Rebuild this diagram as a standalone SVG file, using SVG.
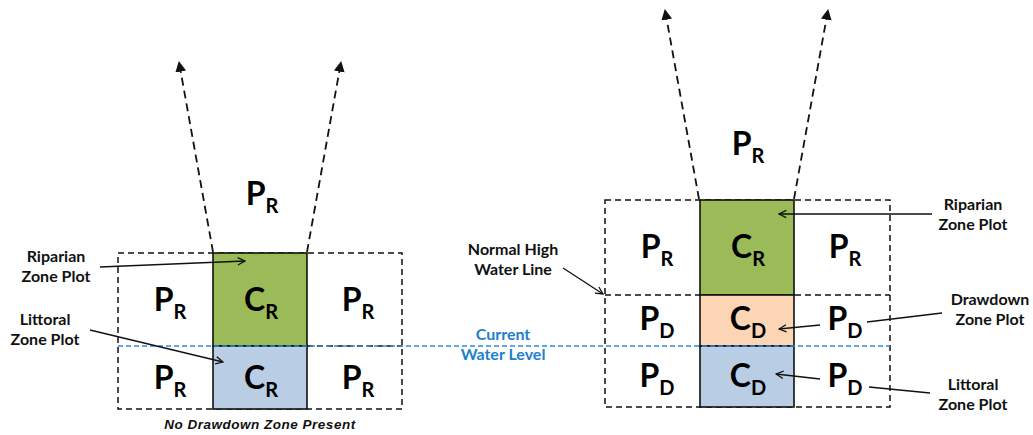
<svg xmlns="http://www.w3.org/2000/svg" width="1033" height="435" viewBox="0 0 1033 435">
  <style>
    .lbl { font-family: Lato, "Liberation Sans", sans-serif; font-weight: 700; font-size: 16px; fill: #111; text-anchor: middle; }
    .blue { fill: #2080d0; }
    .big { font-family: Lato, "Liberation Sans", sans-serif; font-weight: 700; font-size: 32px; fill: #000; text-anchor: middle; }
    .sub { font-size: 20px; }
    .note { font-family: "Liberation Sans", Arial, sans-serif; font-weight: 700; font-style: italic; font-size: 13.5px; fill: #111; text-anchor: middle; letter-spacing: 0.5px; }
    .grid { fill: none; stroke: #111; stroke-width: 1.5; stroke-dasharray: 6 4; }
    .solid { stroke: #111; stroke-width: 1.6; }
    .water { fill: none; stroke: #2e8ae0; stroke-width: 1.4; stroke-dasharray: 5 3; }
    .ray { fill: none; stroke: #111; stroke-width: 1.8; stroke-dasharray: 8 5; marker-end: url(#tri); }
    .ptr { fill: none; stroke: #111; stroke-width: 1.3; marker-end: url(#vee); }
    .leader { fill: none; stroke: #111; stroke-width: 1.3; }
  </style>
  <defs>
    <marker id="tri" viewBox="0 0 10 10" refX="9" refY="5" markerWidth="6" markerHeight="6" markerUnits="strokeWidth" orient="auto">
      <path d="M0,0 L10,5 L0,10 z" fill="#111"/>
    </marker>
    <marker id="vee" viewBox="0 0 10 10" refX="9" refY="5" markerWidth="7" markerHeight="7" markerUnits="strokeWidth" orient="auto">
      <path d="M1,1 L9,5 L1,9" fill="none" stroke="#111" stroke-width="1.4"/>
    </marker>
  </defs>
  <rect width="1033" height="435" fill="#fff"/>

  <!-- Left layout: no drawdown zone -->
  <g id="left-grid">
    <rect class="grid" x="118" y="253" width="284" height="156"/>
    <line class="grid" x1="307" y1="346" x2="402" y2="346"/>
    <rect id="left-cr-riparian" x="213" y="253" width="94" height="93" fill="#9bbb59" class="solid"/>
    <rect id="left-cr-littoral" x="213" y="346" width="94" height="63" fill="#b9cde5" class="solid"/>
  </g>
  <g id="left-top-pr"><text class="big" x="262" y="205">P<tspan class="sub" dy="8">R</tspan></text></g>
  <g id="left-pr-1"><text class="big" x="170" y="311">P<tspan class="sub" dy="8">R</tspan></text></g>
  <g id="left-cr-1"><text class="big" x="261" y="311">C<tspan class="sub" dy="8">R</tspan></text></g>
  <g id="left-pr-2"><text class="big" x="358" y="311">P<tspan class="sub" dy="8">R</tspan></text></g>
  <g id="left-pr-3"><text class="big" x="170" y="389">P<tspan class="sub" dy="8">R</tspan></text></g>
  <g id="left-cr-2"><text class="big" x="261" y="389">C<tspan class="sub" dy="8">R</tspan></text></g>
  <g id="left-pr-4"><text class="big" x="358" y="389">P<tspan class="sub" dy="8">R</tspan></text></g>
  <g id="left-riparian-label">
    <text class="lbl" x="56" y="262">Riparian</text>
    <text class="lbl" x="56" y="282">Zone Plot</text>
  </g>
  <g id="left-littoral-label">
    <text class="lbl" x="45" y="325">Littoral</text>
    <text class="lbl" x="45" y="345">Zone Plot</text>
  </g>
  <g id="left-caption"><text class="note" x="260" y="429">No Drawdown Zone Present</text></g>

  <!-- Right layout: drawdown zone present -->
  <g id="right-grid">
    <rect class="grid" x="605" y="200" width="285" height="207"/>
    <line class="grid" x1="605" y1="295" x2="890" y2="295"/>
    <rect id="right-cr" x="700" y="200" width="94" height="95" fill="#9bbb59" class="solid"/>
    <rect id="right-cd-drawdown" x="700" y="295" width="94" height="51" fill="#fcd5b5" class="solid"/>
    <rect id="right-cd-littoral" x="700" y="346" width="94" height="61" fill="#b9cde5" class="solid"/>
  </g>
  <g id="right-top-pr"><text class="big" x="748" y="155">P<tspan class="sub" dy="8">R</tspan></text></g>
  <g id="right-pr-1"><text class="big" x="657" y="258">P<tspan class="sub" dy="8">R</tspan></text></g>
  <g id="right-cr-1"><text class="big" x="748" y="258">C<tspan class="sub" dy="8">R</tspan></text></g>
  <g id="right-pr-2"><text class="big" x="845" y="258">P<tspan class="sub" dy="8">R</tspan></text></g>
  <g id="right-pd-1"><text class="big" x="657" y="330">P<tspan class="sub" dy="8">D</tspan></text></g>
  <g id="right-cd-1"><text class="big" x="748" y="330">C<tspan class="sub" dy="8">D</tspan></text></g>
  <g id="right-pd-2"><text class="big" x="845" y="330">P<tspan class="sub" dy="8">D</tspan></text></g>
  <g id="right-pd-3"><text class="big" x="657" y="387">P<tspan class="sub" dy="8">D</tspan></text></g>
  <g id="right-cd-2"><text class="big" x="748" y="387">C<tspan class="sub" dy="8">D</tspan></text></g>
  <g id="right-pd-4"><text class="big" x="845" y="387">P<tspan class="sub" dy="8">D</tspan></text></g>
  <g id="nhwl-label">
    <text class="lbl" x="513" y="255">Normal High</text>
    <text class="lbl" x="513" y="275">Water Line</text>
  </g>
  <g id="water-level-label">
    <text class="lbl blue" x="503" y="340">Current</text>
    <text class="lbl blue" x="503" y="360">Water Level</text>
  </g>
  <g id="right-riparian-label">
    <text class="lbl" x="973" y="210">Riparian</text>
    <text class="lbl" x="973" y="230">Zone Plot</text>
  </g>
  <g id="right-drawdown-label">
    <text class="lbl" x="990" y="305">Drawdown</text>
    <text class="lbl" x="990" y="325">Zone Plot</text>
  </g>
  <g id="right-littoral-label">
    <text class="lbl" x="973" y="390">Littoral</text>
    <text class="lbl" x="973" y="410">Zone Plot</text>
  </g>

  <!-- Connectors -->
  <g id="connectors">
    <line class="water" x1="118" y1="346" x2="890" y2="346"/>
    <line class="ray" x1="213" y1="252" x2="179" y2="62"/>
    <line class="ray" x1="307" y1="252" x2="341" y2="62"/>
    <line class="ray" x1="699" y1="199" x2="665" y2="10"/>
    <line class="ray" x1="794" y1="199" x2="828" y2="10"/>
    <line class="ptr" x1="100" y1="267" x2="245" y2="261"/>
    <line class="ptr" x1="90" y1="330" x2="223" y2="362"/>
    <line class="ptr" x1="563" y1="268" x2="603" y2="294"/>
    <line class="ptr" x1="932" y1="214" x2="779" y2="214"/>
    <line class="ptr" x1="820" y1="325" x2="779" y2="329"/>
    <line class="ptr" x1="820" y1="379" x2="776" y2="374"/>
    <line class="leader" x1="867" y1="322" x2="942" y2="313"/>
    <line class="leader" x1="869" y1="387" x2="930" y2="393"/>
  </g>
</svg>
